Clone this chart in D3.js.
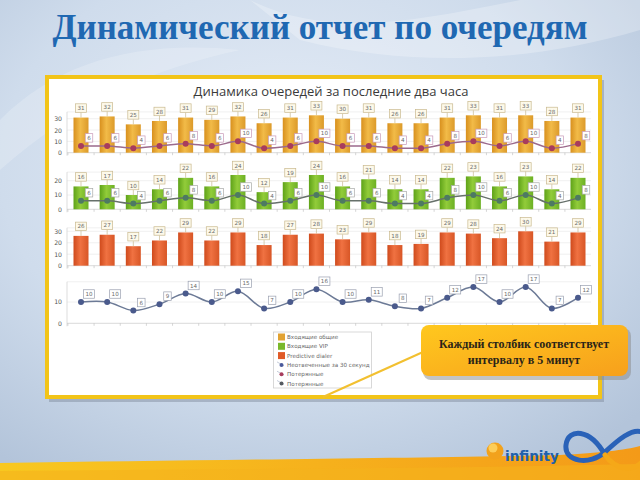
<!DOCTYPE html>
<html><head><meta charset="utf-8">
<script src="https://cdn.jsdelivr.net/npm/d3@7"></script>
<style>html,body{margin:0;padding:0;background:#fff}svg{display:block}</style>
</head><body>
<script>
const slideTitle = "Динамический отчет по очередям";
const chartTitle = "Динамика очередей за последние два часа";
const intervals = d3.range(1, 21);
const incomingGeneral = [31,32,25,28,31,29,32,26,31,33,30,31,26,26,31,33,31,33,28,31];
const incomingVIP     = [16,17,10,14,22,16,24,12,19,24,16,21,14,14,22,23,16,23,14,22];
const lostGeneral     = [6,6,4,6,8,6,10,4,6,10,6,6,4,4,8,10,6,10,4,8];
const lostVIP         = [6,6,4,6,8,6,10,4,6,10,6,6,4,4,8,10,6,10,4,8];
const predictive      = [26,27,17,22,29,22,29,18,27,28,23,29,18,19,29,28,24,30,21,29];
const unanswered30    = [10,10,6,9,14,10,15,7,10,16,10,11,8,7,12,17,10,17,7,12];
const ticksRow1 = [0,10,20,30];
const ticksRow2 = [0,10,20];
const ticksRow3 = [0,10,20,30];
const ticksRow4 = [0,10];
const legendLabels = ["Входящие общие","Входящие VIP","Predictive dialer","Неотвеченные за 30 секунд","Потерянные","Потерянные"];
const calloutLines = ["Каждый столбик соответствует","интервалу в 5 минут"];

const W = 640, H = 480;
const svg = d3.select("body").append("svg").attr("width", W).attr("height", H);
const defs = svg.append("defs");

// background
const bg = defs.append("radialGradient").attr("id","bg").attr("cx","45%").attr("cy","35%").attr("r","75%");
bg.append("stop").attr("offset","0%").attr("stop-color","#e6edf7");
bg.append("stop").attr("offset","60%").attr("stop-color","#cfdcec");
bg.append("stop").attr("offset","100%").attr("stop-color","#b3c4da");
svg.append("rect").attr("width",W).attr("height",H).attr("fill","url(#bg)");
svg.append("path").attr("d","M250,0 C330,40 420,20 520,0 L640,0 L640,30 C540,60 420,70 300,40 Z").attr("fill","#ffffff").attr("opacity",0.25);
svg.append("path").attr("d","M0,120 C60,60 140,40 240,50 C150,70 80,100 0,170 Z").attr("fill","#ffffff").attr("opacity",0.2);

function hGrad(id, stops){
  const g = defs.append("linearGradient").attr("id",id).attr("x1","0").attr("x2","1").attr("y1","0").attr("y2","0");
  stops.forEach(s=>g.append("stop").attr("offset",s[0]).attr("stop-color",s[1]));
}
hGrad("gOrange",[["0%","#d8901e"],["45%","#f2bb48"],["100%","#dc9a2a"]]);
hGrad("gGreen",[["0%","#5ea218"],["45%","#92cc3a"],["100%","#6cb024"]]);
hGrad("gRed",[["0%","#cf4a1c"],["45%","#f07242"],["100%","#d85626"]]);
const cg = defs.append("linearGradient").attr("id","gCallout").attr("x1","0").attr("x2","1").attr("y1","0").attr("y2","1");
cg.append("stop").attr("offset","0%").attr("stop-color","#ffc81e");
cg.append("stop").attr("offset","100%").attr("stop-color","#f7a01c");
const bandG = defs.append("linearGradient").attr("id","gBand").attr("x1","0").attr("x2","1");
bandG.append("stop").attr("offset","0%").attr("stop-color","#f8c820");
bandG.append("stop").attr("offset","100%").attr("stop-color","#f49a18");

// title
svg.append("text").attr("x",320).attr("y",39).attr("text-anchor","middle")
  .attr("font-family","Liberation Serif").attr("font-weight","bold").attr("font-size",35)
  .attr("fill","#1f68b2").text(slideTitle);

// panel
svg.append("rect").attr("x",49).attr("y",80).attr("width",555).attr("height",322).attr("fill","#7d8898").attr("opacity",0.45);
svg.append("rect").attr("x",47).attr("y",77).attr("width",553).attr("height",320).attr("fill","#ffffff").attr("stroke","#f2c418").attr("stroke-width",4);

svg.append("text").attr("x",331).attr("y",96).attr("text-anchor","middle")
  .attr("font-family","Open Sans").attr("font-size",13).attr("fill","#3a3a3a").text(chartTitle);

const x = d3.scalePoint().domain(intervals).range([81, 578]);
const barW = 15;
const plotL = 67, plotR = 591;

function frame(y, ticks, topVal){
  const g = svg.append("g");
  g.selectAll("line.grid").data(ticks.filter(t=>t>0).concat([topVal])).join("line")
    .attr("x1",plotL).attr("x2",plotR).attr("y1",d=>y(d)).attr("y2",d=>y(d))
    .attr("stroke","#ececec").attr("stroke-width",0.8);
  g.append("line").attr("x1",plotL).attr("x2",plotL).attr("y1",y(topVal)).attr("y2",y(0)+3).attr("stroke","#d4d4d4").attr("stroke-width",0.8);
  g.append("line").attr("x1",plotL).attr("x2",plotR).attr("y1",y(0)).attr("y2",y(0)).attr("stroke","#cfcfcf").attr("stroke-width",0.8);
  const step = x.step();
  g.selectAll("line.tk").data(intervals).join("line")
    .attr("x1",d=>x(d)-step/2).attr("x2",d=>x(d)-step/2).attr("y1",y(0)).attr("y2",y(0)+2.5)
    .attr("stroke","#bbb").attr("stroke-width",0.6);
  const ax = d3.axisLeft(y).tickValues(ticks).tickSize(0).tickPadding(4);
  const a = g.append("g").attr("transform",`translate(${plotL-1},0)`).call(ax);
  a.select(".domain").remove();
  a.selectAll("text").attr("font-family","DejaVu Sans").attr("font-size",6.2).attr("fill","#555");
}

function labelBox(g, cx, cy, txt, stroke, fill){
  const w = String(txt).length > 1 ? 11 : 7.5, h = 8.5;
  g.append("rect").attr("x",cx-w/2).attr("y",cy-h/2).attr("width",w).attr("height",h)
    .attr("fill",fill).attr("stroke",stroke).attr("stroke-width",0.7);
  g.append("text").attr("x",cx).attr("y",cy+2.1).attr("text-anchor","middle")
    .attr("font-family","DejaVu Sans").attr("font-size",5.6).attr("fill","#6a6a6a").text(txt);
}

function bars(y, vals, grad){
  const g = svg.append("g");
  g.selectAll("rect").data(vals).join("rect")
    .attr("x",(d,i)=>x(intervals[i])-barW/2).attr("y",d=>y(d)).attr("width",barW).attr("height",d=>y(0)-y(d))
    .attr("fill",`url(#${grad})`);
  vals.forEach((d,i)=>{
    const cx = x(intervals[i]), top = y(d);
    g.append("line").attr("x1",cx).attr("x2",cx).attr("y1",top).attr("y2",top-5).attr("stroke","#c9b98f").attr("stroke-width",0.7);
    labelBox(g, cx, top-9.5, d, "#c9b98f", "#fdf9ea");
  });
}

function line(y, vals, lineColor, ptColor, boxStroke, curve){
  const g = svg.append("g");
  const gen = d3.line().x((d,i)=>x(intervals[i])).y(d=>y(d)).curve(curve);
  g.append("path").attr("d",gen(vals)).attr("fill","none").attr("stroke",lineColor).attr("stroke-width",1.5);
  g.selectAll("circle").data(vals).join("circle")
    .attr("cx",(d,i)=>x(intervals[i])).attr("cy",d=>y(d)).attr("r",3).attr("fill",ptColor);
  vals.forEach((d,i)=>{
    const cx = x(intervals[i]), cy = y(d);
    labelBox(g, cx+8, cy-8, d, boxStroke, "#ffffff");
  });
}

const y1 = d3.scaleLinear().domain([0,30]).range([152.7,118.7]);
frame(y1, ticksRow1, 36);
bars(y1, incomingGeneral, "gOrange");
line(y1, lostGeneral, "#9c6a8c", "#a83c5c", "#c89ab8", d3.curveMonotoneX);

const y2 = d3.scaleLinear().domain([0,20]).range([209.3,180.7]);
frame(y2, ticksRow2, 26);
bars(y2, incomingVIP, "gGreen");
line(y2, lostVIP, "#66706a", "#4d7a62", "#a8aaa8", d3.curveMonotoneX);

const y3 = d3.scaleLinear().domain([0,30]).range([265.7,231.3]);
frame(y3, ticksRow3, 33);
bars(y3, predictive, "gRed");

const y4 = d3.scaleLinear().domain([0,10]).range([323.3,302]);
frame(y4, ticksRow4, 19.5);
line(y4, unanswered30, "#6c7a96", "#4a5a8c", "#9aa0b0", d3.curveCatmullRom);

// legend
const lg = svg.append("g");
lg.append("rect").attr("x",273.5).attr("y",332).attr("width",98).attr("height",56).attr("fill","#fff").attr("stroke","#cfcfcf").attr("stroke-width",0.8);
const legColors = ["#e2a232","#7ab82a","#e05a28","#4a5a9c","#a83c5c","#555a60"];
legendLabels.forEach((t,i)=>{
  const cy = 337 + i*9.3;
  if(i<3){
    lg.append("rect").attr("x",278).attr("y",cy-3.5).attr("width",7).attr("height",7).attr("fill",legColors[i]);
  } else {
    lg.append("line").attr("x1",277).attr("x2",284).attr("y1",cy-3).attr("y2",cy+1).attr("stroke","#b8c0d0").attr("stroke-width",0.8);
    lg.append("circle").attr("cx",281.5).attr("cy",cy).attr("r",2).attr("fill",legColors[i]);
  }
  lg.append("text").attr("x",287).attr("y",cy+2).attr("font-family","DejaVu Sans").attr("font-size",5.6).attr("fill","#666").text(t);
});

// callout
svg.append("line").attr("x1",423).attr("y1",352).attr("x2",323).attr("y2",397).attr("stroke","#f2c030").attr("stroke-width",2);
svg.append("rect").attr("x",423).attr("y",328).attr("width",208).attr("height",52).attr("rx",8).attr("fill","#8a8a8a").attr("opacity",0.5);
svg.append("rect").attr("x",421).attr("y",325).attr("width",207).attr("height",51).attr("rx",8).attr("fill","url(#gCallout)");
calloutLines.forEach((t,i)=>{
  svg.append("text").attr("x",524).attr("y",348 + i*15.5).attr("text-anchor","middle")
    .attr("font-family","Liberation Serif").attr("font-weight","bold").attr("font-size",12).attr("fill","#2a2418").text(t);
});

// bottom band & logo
svg.append("path").attr("d","M0,463 C200,460 420,458 560,455 C600,453 625,450 640,446 L640,480 L0,480 Z").attr("fill","url(#gBand)");
svg.append("path").attr("d","M0,471 C200,469 420,469 640,464 L640,480 L0,480 Z").attr("fill","#f5b21c").attr("opacity",0.6);
svg.append("path").attr("d","M605,455 C590,428 568,428 566,445 C564,462 590,466 605,452 C618,440 632,428 642,432")
  .attr("fill","none").attr("stroke","#2a62b8").attr("stroke-width",5).attr("stroke-linecap","round");
svg.append("path").attr("d","M605,455 C616,470 632,472 642,462")
  .attr("fill","none").attr("stroke","#f5a818").attr("stroke-width",5).attr("stroke-linecap","round");
svg.append("circle").attr("cx",495).attr("cy",451).attr("r",8.5).attr("fill","#f2a21c");
svg.append("circle").attr("cx",493).attr("cy",448).attr("r",4.5).attr("fill","#ffd868").attr("opacity",0.8);
svg.append("text").attr("x",505).attr("y",461).attr("font-family","DejaVu Sans").attr("font-weight","bold").attr("font-size",13.5)
  .attr("fill","#2060ac").text("infinity");
</script>
</body></html>
